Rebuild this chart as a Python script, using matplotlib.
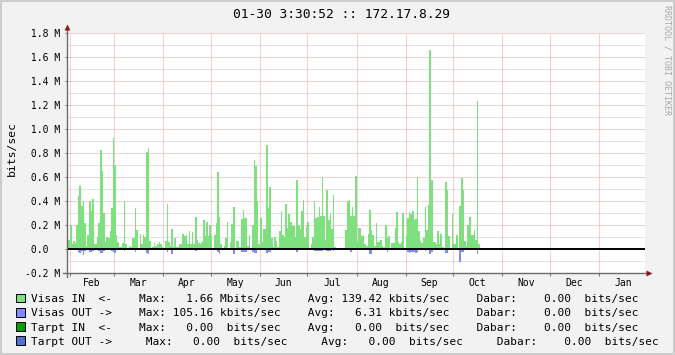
import numpy as np
import matplotlib
matplotlib.use("Agg")
import matplotlib.pyplot as plt
import matplotlib.dates as mdates
from matplotlib.patches import Rectangle
from datetime import datetime, timedelta

plt.rcParams["font.family"] = "DejaVu Sans Mono"

# daily averages [Mbit/s], one value per day starting 30 Jan
visas_in = [
    # Jan 30 .. mid Mar
    0.16, 0.08, 0.20, 0.04, 0.07, 0.05, 0.20, 0.44, 0.53, 0.36,
    0.40, 0.22, 0.03, 0.12, 0.40, 0.32, 0.42, 0.04, 0.04, 0.10,
    0.22, 0.83, 0.65, 0.30, 0.06, 0.10, 0.09, 0.15, 0.34, 0.93,
    0.70, 0.12, 0.06, 0.02, 0.02, 0.05, 0.40, 0.04, 0.01, 0.03,
    0.02, 0.09, 0.09, 0.34,
    # .. end Apr
    0.16, 0.01, 0.13, 0.04, 0.12, 0.10, 0.81, 0.84, 0.07, 0.01,
    0.02, 0.05, 0.03, 0.04, 0.06, 0.04, 0.02, 0.01, 0.07, 0.38,
    0.06, 0.03, 0.17, 0.02, 0.09, 0.02, 0.02, 0.04, 0.04, 0.13,
    0.11, 0.12, 0.04, 0.15, 0.04, 0.14, 0.04, 0.27, 0.08, 0.05,
    0.04, 0.06, 0.24, 0.11, 0.23,
    # .. mid Jun
    0.11, 0.20, 0.12, 0.01, 0.12, 0.22, 0.64, 0.27, 0.04, 0.01,
    0.03, 0.09, 0.23, 0.01, 0.06, 0.21, 0.35, 0.01, 0.07, 0.07,
    0.02, 0.25, 0.33, 0.26, 0.26, 0.03, 0.12, 0.00, 0.20, 0.74,
    0.69, 0.40, 0.04, 0.26, 0.06, 0.17, 0.17, 0.87, 0.34, 0.52,
    0.09, 0.02, 0.10, 0.07,
    # .. late Jul
    0.02, 0.15, 0.32, 0.12, 0.10, 0.38, 0.18, 0.29, 0.23, 0.19,
    0.19, 0.10, 0.58, 0.20, 0.17, 0.32, 0.41, 0.10, 0.19, 0.23,
    0.00, 0.04, 0.10, 0.40, 0.26, 0.27, 0.35, 0.28, 0.60, 0.28,
    0.08, 0.49, 0.24, 0.29, 0.17, 0.45, 0.02,
    # no data
    np.nan, np.nan, np.nan, np.nan, np.nan, np.nan,
    # .. early Sep
    0.16, 0.40,
    0.41, 0.28, 0.35, 0.28, 0.61, 0.07, 0.18, 0.18, 0.11, 0.12,
    0.04, 0.03, 0.13, 0.33, 0.16, 0.12, 0.03, 0.22, 0.06, 0.06,
    0.08, 0.03, 0.02, 0.20, 0.09, 0.11, 0.01, 0.05, 0.05, 0.18,
    0.31, 0.06, 0.04, 0.06, 0.30, 0.01, 0.11, 0.26, 0.31, 0.29,
    0.32, 0.24, 0.25, 0.60,
    # .. Oct
    0.15, 0.07, 0.05, 0.09, 0.35, 0.16, 0.37, 1.66, 0.58, 0.06,
    0.06, 0.04, 0.15, 0.04, 0.13, 0.02, 0.00, 0.56, 0.49, 0.11,
    0.01, 0.29, 0.04, 0.04, 0.12, 0.01, 0.36, 0.59, 0.49, 0.07,
    0.03, 0.20, 0.27, 0.12, 0.12, 0.16, 0.08, 1.23, 0.04,
]

visas_out = [
    0.005, 0.002, 0.010, 0.002, 0.002, 0.002, 0.010, 0.020, 0.028, 0.012,
    0.045, 0.012, 0.002, 0.003, 0.020, 0.020, 0.012, 0.002, 0.002, 0.003,
    0.012, 0.028, 0.028, 0.012, 0.002, 0.003, 0.002, 0.004, 0.012, 0.022,
    0.028, 0.005, 0.002, 0.002, 0.002, 0.003, 0.015, 0.002, 0.002, 0.002,
    0.002, 0.003, 0.004, 0.025,
    0.010, 0.002, 0.003, 0.002, 0.003, 0.004, 0.035, 0.040, 0.005, 0.002,
    0.002, 0.002, 0.002, 0.003, 0.002, 0.002, 0.002, 0.004, 0.008, 0.020,
    0.005, 0.002, 0.040, 0.002, 0.010, 0.002, 0.002, 0.002, 0.003, 0.005,
    0.004, 0.004, 0.002, 0.005, 0.002, 0.010, 0.002, 0.018, 0.004, 0.002,
    0.002, 0.004, 0.010, 0.004, 0.010,
    0.004, 0.008, 0.004, 0.002, 0.004, 0.010, 0.022, 0.040, 0.004, 0.002,
    0.002, 0.003, 0.004, 0.002, 0.003, 0.010, 0.040, 0.002, 0.003, 0.003,
    0.002, 0.020, 0.020, 0.020, 0.020, 0.002, 0.004, 0.002, 0.025, 0.028,
    0.028, 0.010, 0.002, 0.004, 0.002, 0.004, 0.004, 0.028, 0.020, 0.020,
    0.004, 0.002, 0.003, 0.003,
    0.002, 0.010, 0.004, 0.003, 0.003, 0.010, 0.004, 0.010, 0.010, 0.004,
    0.003, 0.003, 0.020, 0.004, 0.004, 0.010, 0.004, 0.003, 0.003, 0.004,
    0.002, 0.002, 0.010, 0.012, 0.012, 0.015, 0.012, 0.015, 0.012, 0.004,
    0.003, 0.012, 0.015, 0.012, 0.010, 0.012, 0.002,
    np.nan, np.nan, np.nan, np.nan, np.nan, np.nan,
    0.008, 0.010,
    0.004, 0.020, 0.004, 0.010, 0.004, 0.003, 0.002, 0.003, 0.002, 0.002,
    0.002, 0.002, 0.004, 0.040, 0.040, 0.004, 0.002, 0.010, 0.002, 0.002,
    0.002, 0.002, 0.002, 0.004, 0.020, 0.004, 0.002, 0.002, 0.002, 0.004,
    0.010, 0.002, 0.002, 0.002, 0.010, 0.002, 0.004, 0.020, 0.028, 0.020,
    0.020, 0.020, 0.028, 0.020,
    0.004, 0.002, 0.002, 0.003, 0.012, 0.004, 0.010, 0.040, 0.020, 0.002,
    0.002, 0.002, 0.004, 0.002, 0.002, 0.002, 0.002, 0.028, 0.028, 0.004,
    0.002, 0.004, 0.002, 0.002, 0.004, 0.002, 0.105, 0.020, 0.020, 0.004,
    0.002, 0.010, 0.010, 0.004, 0.004, 0.004, 0.002, 0.040, 0.002,
]

first_day = datetime(2009, 1, 30)
t_start = datetime(2009, 1, 30, 3, 30, 52)
t_end = datetime(2010, 1, 30, 3, 30, 52)

month_starts = [datetime(2009, m, 1) for m in range(2, 13)] + [datetime(2010, 1, 1), datetime(2010, 2, 1)]
month_names = ["Feb", "Mar", "Apr", "May", "Jun", "Jul", "Aug", "Sep", "Oct", "Nov", "Dec", "Jan"]

y_major = [-0.2, 0.0, 0.2, 0.4, 0.6, 0.8, 1.0, 1.2, 1.4, 1.6, 1.8]
y_minor = [-0.1, 0.1, 0.3, 0.5, 0.7, 0.9, 1.1, 1.3, 1.5, 1.7]
y_labels = ["-0.2 M", " 0.0", " 0.2 M", " 0.4 M", " 0.6 M", " 0.8 M",
            " 1.0 M", " 1.2 M", " 1.4 M", " 1.6 M", " 1.8 M"]

title = "01-30 3:30:52 :: 172.17.8.29"
# legend rows as (column, text) pieces
legend_rows = [
    [(0, "Visas IN  <-"), (16, "Max:"), (23, "1.66"), (28, "Mbits/sec"), (41, "Avg:"),
     (46, "139.42"), (53, "kbits/sec"), (66, "Dabar:"), (76, "0.00"), (82, "bits/sec")],
    [(0, "Visas OUT ->"), (16, "Max:"), (21, "105.16"), (28, "kbits/sec"), (41, "Avg:"),
     (48, "6.31"), (53, "kbits/sec"), (66, "Dabar:"), (76, "0.00"), (82, "bits/sec")],
    [(0, "Tarpt IN  <-"), (16, "Max:"), (23, "0.00"), (29, "bits/sec"), (41, "Avg:"),
     (48, "0.00"), (54, "bits/sec"), (66, "Dabar:"), (76, "0.00"), (82, "bits/sec")],
    [(0, "Tarpt OUT ->"), (17, "Max:"), (24, "0.00"), (30, "bits/sec"), (43, "Avg:"),
     (50, "0.00"), (56, "bits/sec"), (69, "Dabar:"), (79, "0.00"), (85, "bits/sec")],
]
legend_colors = ["#7FE07F", "#7C8CFF", "#00A000", "#5070D0"]


def columns(pieces):
    line = ""
    for col, txt in pieces:
        line = line.ljust(col) + txt
    return line


W, H = 675, 355
fig = plt.figure(figsize=(W / 100, H / 100), dpi=100, facecolor="#F2F2F2")
ax = fig.add_axes([67 / W, 1 - 273.3 / H, 578 / W, 240.3 / H])
ax.set_facecolor("white")

vin = np.array(visas_in, dtype=float)
vout = np.array(visas_out, dtype=float)
edges = mdates.date2num([first_day + timedelta(days=i) for i in range(len(vin) + 1)])

ax.stairs(vin, edges, fill=True, color=legend_colors[0], lw=0, zorder=2)
ax.stairs(-vout, edges, fill=True, color=legend_colors[1], lw=0, zorder=2)
ax.axhline(0, color="black", lw=1.4, zorder=3)

ax.set_xlim(mdates.date2num(t_start), mdates.date2num(t_end))
ax.set_ylim(-0.2, 1.8)

ms = mdates.date2num(month_starts)
mids = (ms[:-1] + ms[1:]) / 2
ax.set_xticks(ms[:-1])
ax.set_xticklabels([""] * len(ms[:-1]))
ax.set_xticks(mids, minor=True)
ax.set_xticklabels(month_names, minor=True)
ax.set_yticks(y_major)
ax.set_yticklabels(y_labels, ha="left")
ax.set_yticks(y_minor, minor=True)

dot = (0, (1, 1))
ax.xaxis.grid(True, which="major", color="#E2A4A4", linestyle=dot, lw=0.72, zorder=1)
ax.yaxis.grid(True, which="major", color="#E2A4A4", linestyle=dot, lw=0.72, zorder=1)
ax.yaxis.grid(True, which="minor", color="#C8C8C8", linestyle=dot, lw=0.72, zorder=1)
ax.set_axisbelow(True)

ax.tick_params(axis="x", which="major", length=2.2, width=0.7, color="#707070")
ax.tick_params(axis="x", which="minor", length=0, pad=3.6, labelsize=7)
ax.tick_params(axis="y", which="major", length=1.4, width=0.7, color="#707070",
               pad=28.8, labelsize=7)
ax.tick_params(axis="y", which="minor", length=0)

for s in ax.spines.values():
    s.set_visible(False)

# axis lines with arrow heads
ax.plot([0, 0], [-4 / 240.3, 1 + 4 / 240.3], transform=ax.transAxes, clip_on=False,
        color="#6A6A6A", lw=1.0, zorder=4)
ax.plot([-4 / 578, 1 + 3 / 578], [0, 0], transform=ax.transAxes, clip_on=False,
        color="#6A6A6A", lw=1.0, zorder=4)
ax.plot([0], [1 + 6 / 240.3], marker="^", ms=4.5, color="#8B1A1A", mec="none",
        transform=ax.transAxes, clip_on=False, zorder=5)
ax.plot([1 + 4 / 578], [0], marker=">", ms=4.5, color="#8B1A1A", mec="none",
        transform=ax.transAxes, clip_on=False, zorder=5)

fig.text(341.3 / W, 1 - 18.3 / H, title, ha="center", va="baseline", fontsize=9.3)
fig.text(11.5 / W, 1 - 149 / H, "bits/sec", rotation=90, ha="center", va="center", fontsize=8.2)
fig.text(666.5 / W, 1 - 5 / H, "RRDTOOL / TOBI OETIKER", rotation=270, ha="center",
         va="top", fontsize=6, color="#A8A8A8")

baselines = [302.3, 316.5, 330.7, 344.9]
for pieces, col, b in zip(legend_rows, legend_colors, baselines):
    fig.add_artist(Rectangle((15.5 / W, 1 - b / H), 9 / W, 8.5 / H, facecolor=col,
                             edgecolor="black", lw=0.72))
    fig.text(31 / W, 1 - b / H, columns(pieces), ha="left", va="baseline", fontsize=8.05)

fig.add_artist(Rectangle((0, 0), 1, 1, fill=False, edgecolor="#CCCCCC", lw=2.9))

fig.savefig("out.png", dpi=100, facecolor=fig.get_facecolor())
